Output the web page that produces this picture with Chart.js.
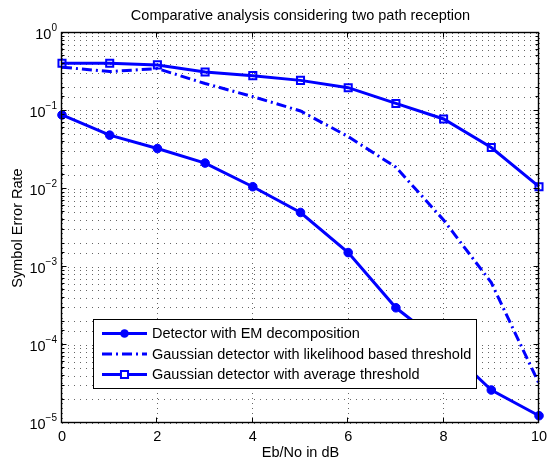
<!DOCTYPE html>
<html><head><meta charset="utf-8">
<script src="https://cdn.jsdelivr.net/npm/chart.js@4.4.0/dist/chart.umd.min.js"></script>
<style>html,body{margin:0;padding:0;background:#fff;overflow:hidden}#wrap{width:547px;height:461px;position:relative}</style>
</head><body><div id="wrap"><canvas id="c" width="547" height="461" style="width:547px;height:461px"></canvas></div>
<script>
const ebno = [0,1,2,3,4,5,6,7,8,9,10];
const emDetector = [0.089,0.049,0.033,0.0215,0.0107,0.0050,0.00153,0.00030,0.00010,0.0000265,0.0000124];
const likelihoodThreshold = [0.365,0.32,0.35,0.225,0.153,0.10,0.047,0.019,0.0040,0.00063,0.000032];
const averageThreshold = [0.41,0.41,0.39,0.316,0.284,0.247,0.199,0.125,0.079,0.034,0.0107];
const xTickValues = [0,2,4,6,8,10];
const yDecadeExponents = [-5,-4,-3,-2,-1,0];
const seriesLabels = ['Detector with EM decomposition','Gaussian detector with likelihood based threshold','Gaussian detector with average threshold'];
const titleText = 'Comparative analysis considering two path reception';
const xTitle = 'Eb/No in dB';
const yTitle = 'Symbol Error Rate';

const FONT = '"Liberation Sans", Arial, Helvetica, sans-serif';
const BLUE = '#0000ff';

const decor = {
  id: 'decor',
  afterDraw(chart) {
    const {ctx, chartArea: a, scales: {x, y}} = chart;
    ctx.save();
    // legend
    const lx = 93.5, ly = 319.5, lw = 383, lh = 69;
    ctx.fillStyle = '#fff';
    ctx.fillRect(lx, ly, lw, lh);
    ctx.strokeStyle = '#000'; ctx.lineWidth = 1; ctx.setLineDash([]);
    ctx.strokeRect(lx, ly, lw, lh);
    const rows = [333.5, 354, 374.5];
    chart.data.datasets.forEach((ds, i) => {
      const ry = rows[i];
      ctx.save();
      ctx.strokeStyle = ds.borderColor; ctx.lineWidth = ds.borderWidth;
      ctx.setLineDash(ds.borderDash || []);
      ctx.beginPath(); ctx.moveTo(102, ry); ctx.lineTo(147, ry); ctx.stroke();
      ctx.setLineDash([]);
      if (ds.pointRadius > 0) {
        const cx = 124.5;
        if (ds.pointStyle === 'rect') {
          const s = Math.SQRT1_2 * ds.pointRadius;
          ctx.lineWidth = ds.pointBorderWidth; ctx.strokeStyle = ds.pointBorderColor;
          ctx.fillStyle = '#fff';
          ctx.beginPath(); ctx.rect(cx - s, ry - s, 2*s, 2*s); ctx.fill(); ctx.stroke();
        } else {
          ctx.fillStyle = ds.pointBackgroundColor;
          ctx.beginPath(); ctx.arc(cx, ry, ds.pointRadius, 0, Math.PI*2); ctx.fill();
        }
      }
      ctx.restore();
      ctx.fillStyle = '#000'; ctx.font = '14.5px ' + FONT;
      ctx.textAlign = 'left'; ctx.textBaseline = 'middle';
      ctx.fillText(ds.label, 152, ry + 0.5);
    });
    // frame
    ctx.strokeStyle = '#000'; ctx.lineWidth = 1.4;
    const L = Math.round(a.left) - 0.5, T = Math.round(a.top) - 0.5;
    const R = Math.round(a.right) - 0.5, B = Math.round(a.bottom) - 0.5;
    ctx.strokeRect(L, T, R - L, B - T);
    // ticks
    ctx.lineWidth = 1;
    ctx.beginPath();
    xTickValues.forEach(v => {
      const px = Math.round(x.getPixelForValue(v)) - 0.5;
      ctx.moveTo(px, B); ctx.lineTo(px, B - 5);
      ctx.moveTo(px, T); ctx.lineTo(px, T + 5);
    });
    y.ticks.forEach(t => {
      const e = Math.log10(t.value);
      const major = Math.abs(e - Math.round(e)) < 1e-6;
      const len = major ? 5 : 3;
      const py = Math.round(y.getPixelForValue(t.value)) - 0.5;
      ctx.moveTo(L, py); ctx.lineTo(L + len, py);
      ctx.moveTo(R, py); ctx.lineTo(R - len, py);
    });
    ctx.stroke();
    // x tick labels
    ctx.fillStyle = '#000';
    ctx.font = '14.5px ' + FONT;
    ctx.textAlign = 'center'; ctx.textBaseline = 'middle';
    xTickValues.forEach(v => ctx.fillText(String(v), x.getPixelForValue(v), 437));
    // y tick labels
    yDecadeExponents.forEach(e => {
      const py = y.getPixelForValue(Math.pow(10, e));
      const expStr = e === 0 ? '0' : '\u2212' + Math.abs(e);
      ctx.font = '10px ' + FONT;
      const ew = ctx.measureText(expStr).width;
      ctx.textAlign = 'left'; ctx.textBaseline = 'middle';
      ctx.fillText(expStr, 57 - ew, py - 5);
      ctx.font = '14.5px ' + FONT;
      ctx.textAlign = 'right';
      ctx.fillText('10', 57 - ew, py + 2);
    });
    // titles
    ctx.font = '14.5px ' + FONT; ctx.textAlign = 'center'; ctx.textBaseline = 'middle';
    ctx.fillText(titleText, (a.left + a.right) / 2, 16);
    ctx.fillText(xTitle, (a.left + a.right) / 2, 453);
    ctx.save();
    ctx.translate(17.5, (a.top + a.bottom) / 2);
    ctx.rotate(-Math.PI / 2);
    ctx.fillText(yTitle, 0, 0);
    ctx.restore();
    ctx.restore();
  }
};

new Chart(document.getElementById('c'), {
  type: 'line',
  data: {
    labels: ebno,
    datasets: [
      { label: seriesLabels[0], data: emDetector, borderColor: BLUE, backgroundColor: BLUE,
        borderWidth: 3, pointStyle: 'circle', pointRadius: 4.3, pointBackgroundColor: BLUE,
        pointBorderColor: BLUE, pointBorderWidth: 1, tension: 0, clip: false },
      { label: seriesLabels[1], data: likelihoodThreshold, borderColor: BLUE, backgroundColor: BLUE,
        borderWidth: 3, borderDash: [10, 4, 2, 4], pointRadius: 0, tension: 0, clip: false },
      { label: seriesLabels[2], data: averageThreshold, borderColor: BLUE, backgroundColor: BLUE,
        borderWidth: 3, pointStyle: 'rect', pointRadius: 5, pointBackgroundColor: 'rgba(0,0,0,0)',
        pointBorderColor: BLUE, pointBorderWidth: 2, tension: 0, clip: false }
    ]
  },
  options: {
    responsive: false, animation: false, devicePixelRatio: 1,
    layout: { padding: { top: 33, right: 8, left: 0, bottom: 0 } },
    plugins: { legend: { display: false }, title: { display: false }, tooltip: { enabled: false } },
    scales: {
      x: {
        type: 'linear', min: 0, max: 10,
        ticks: { display: false, stepSize: 2 },
        grid: { color: 'rgba(0,0,0,0.6)', lineWidth: 1, drawTicks: false },
        border: { display: false, dash: [1, 4] },
        afterFit(s) { s.height = 38; }
      },
      y: {
        type: 'logarithmic', min: 1e-5, max: 1,
        ticks: { display: false, autoSkip: false },
        grid: { color: 'rgba(0,0,0,0.6)', lineWidth: 1, drawTicks: false },
        border: { display: false, dash: [1, 5] },
        afterFit(s) { s.width = 62; }
      }
    }
  },
  plugins: [decor]
});
</script>
</body></html>
